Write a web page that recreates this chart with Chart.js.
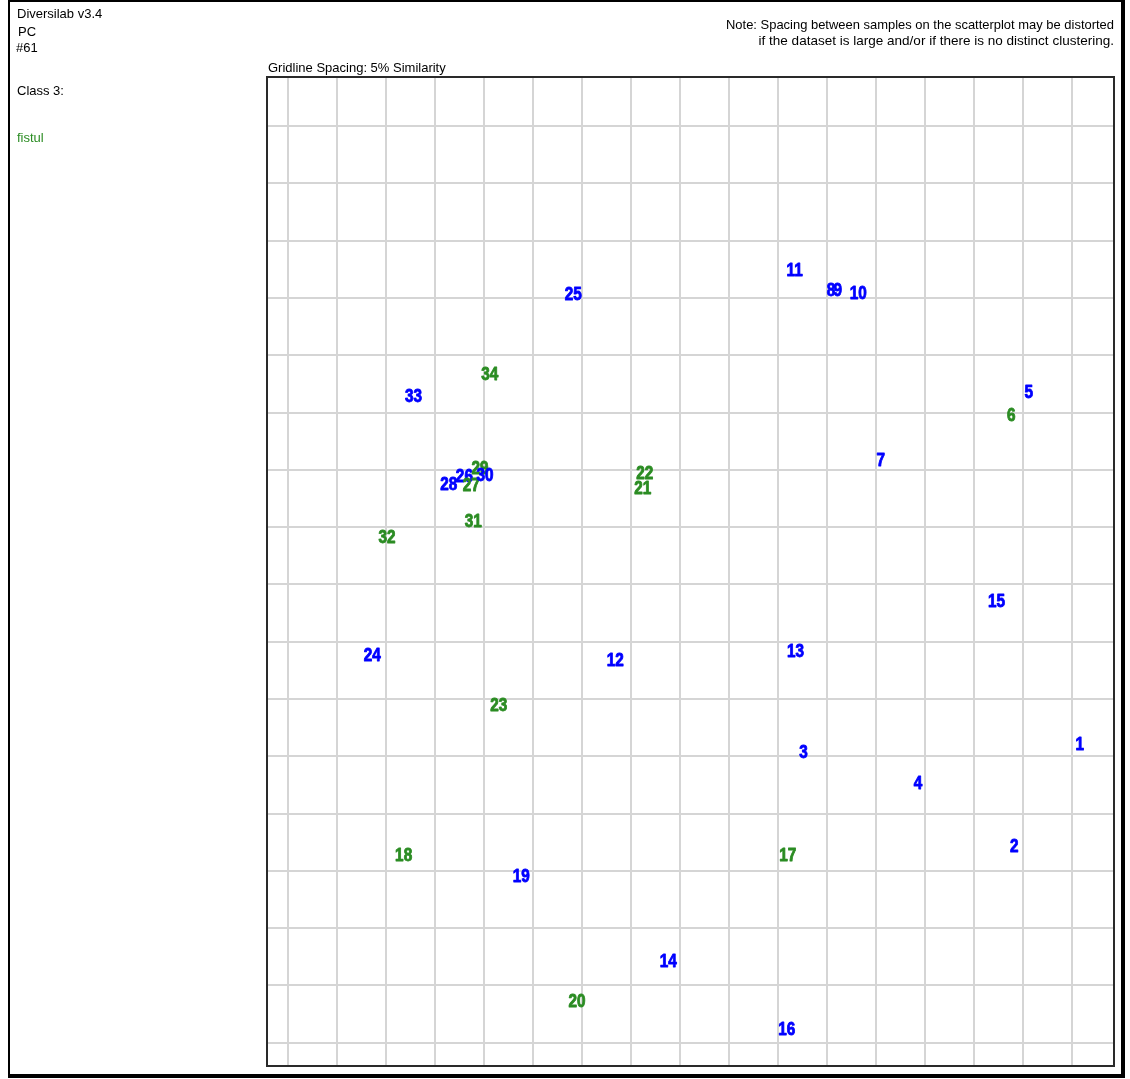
<!DOCTYPE html>
<html>
<head>
<meta charset="utf-8">
<title>Diversilab PC scatterplot</title>
<script src="https://cdn.jsdelivr.net/npm/chart.js@4/dist/chart.umd.min.js"></script>
<style>
  html, body { margin: 0; padding: 0; background: #fff; }
  #wrap { position: relative; width: 1130px; height: 1079px; }
  #frame {
    position: absolute; left: 8px; top: 0; width: 1117px; height: 1078px;
    box-sizing: border-box;
    border-left: 2px solid #000; border-top: 2px solid #000;
    border-right: 4px solid #000; border-bottom: 4px solid #000;
    pointer-events: none;
  }
  canvas { position: absolute; left: 0; top: 0; }
</style>
</head>
<body>
<div id="wrap">
  <canvas id="pcChart" width="1130" height="1079"></canvas>
  <div id="frame"></div>
</div>
<script>
// Samples of the "fistul" class are green, the rest blue
const blueLabels = ['1', '2', '3', '4', '5', '7', '8', '9', '10', '11', '12', '13', '14', '15', '16', '19', '24', '25', '26', '28', '30', '33'];
const blueX = [80.8, 74.1, 52.6, 64.3, 75.6, 60.5, 55.4, 56.1, 58.2, 51.7, 33.4, 51.8, 38.8, 72.3, 50.9, 23.8, 8.6, 29.1, 18.0, 16.4, 20.1, 12.8];
const blueY = [26.1, 17.2, 25.4, 22.7, 56.8, 50.9, 65.7, 65.7, 65.5, 67.5, 33.4, 34.2, 7.2, 38.6, 1.2, 14.6, 33.9, 65.4, 49.5, 48.8, 49.6, 56.5];

const greenLabels = ['6', '17', '18', '20', '21', '22', '23', '27', '29', '31', '32', '34'];
const greenX = [73.8, 51.0, 11.8, 29.5, 36.2, 36.4, 21.5, 18.7, 19.6, 18.9, 10.1, 20.6];
const greenY = [54.8, 16.4, 16.4, 3.7, 48.5, 49.8, 29.5, 48.7, 50.2, 45.6, 44.2, 58.4];

// gridlines every 5% similarity
const gridValues = [0, 5, 10, 15, 20, 25, 30, 35, 40, 45, 50, 55, 60, 65, 70, 75, 80];

const BLUE = '#0000ff';
const GREEN = '#2b8c23';

function toPoints(xs, ys) {
  return xs.map((x, i) => ({ x: x, y: ys[i] }));
}

// draws the sample numbers at each point, in numeric order so overlaps stack like the original
const sampleLabels = {
  id: 'sampleLabels',
  afterDatasetsDraw(chart) {
    const ctx = chart.ctx;
    const items = [];
    chart.data.datasets.forEach((ds, i) => {
      const meta = chart.getDatasetMeta(i);
      meta.data.forEach((pt, j) => {
        items.push({ text: ds.labels[j], x: pt.x, y: pt.y, color: ds.textColor });
      });
    });
    items.sort((a, b) => Number(a.text) - Number(b.text));
    ctx.save();
    ctx.font = 'bold 18px "Liberation Sans", Arial, sans-serif';
    ctx.textAlign = 'center';
    ctx.textBaseline = 'alphabetic';
    ctx.lineWidth = 0.9;
    ctx.lineJoin = 'round';
    items.forEach(it => {
      ctx.save();
      ctx.translate(it.x, it.y);
      ctx.scale(0.85, 1); // narrow bold digits like the original
      ctx.fillStyle = it.color;
      ctx.strokeStyle = it.color;
      ctx.fillText(it.text, 0, 6.5);
      ctx.strokeText(it.text, 0, 6.5);
      ctx.restore();
    });
    ctx.restore();
  }
};

// plot box border + header texts
const decorations = {
  id: 'decorations',
  beforeDraw(chart) {
    const ctx = chart.ctx;
    ctx.save();
    ctx.fillStyle = '#fff';
    ctx.fillRect(0, 0, chart.width, chart.height);
    ctx.restore();
  },
  afterDraw(chart) {
    const ctx = chart.ctx;
    const a = chart.chartArea;
    ctx.save();
    ctx.strokeStyle = '#2a2a2a';
    ctx.lineWidth = 2;
    ctx.strokeRect(a.left - 1, a.top, a.right - a.left + 1, a.bottom - a.top);

    ctx.font = '13px "Liberation Sans", Arial, sans-serif';
    ctx.textBaseline = 'alphabetic';
    ctx.fillStyle = '#000';
    ctx.textAlign = 'left';
    ctx.fillText('Diversilab v3.4', 17, 18, 88);
    ctx.fillText('PC', 18, 36);
    ctx.fillText('#61', 16, 52);
    ctx.fillText('Class 3:', 17, 95);
    ctx.fillText('Gridline Spacing: 5% Similarity', a.left, 72, 180);
    ctx.fillStyle = GREEN;
    ctx.fillText('fistul', 17, 142);

    ctx.fillStyle = '#000';
    ctx.textAlign = 'right';
    ctx.fillText('Note: Spacing between samples on the scatterplot may be distorted', 1114, 29, 388);
    // second line is a bit wider in the original, stretch it slightly
    ctx.save();
    ctx.translate(1114, 45);
    ctx.scale(1.04, 1);
    ctx.fillText('if the dataset is large and/or if there is no distinct clustering.', 0, 0);
    ctx.restore();
    ctx.restore();
  }
};

const axisCommon = {
  type: 'linear',
  min: -2.04,
  max: 84.29,
  afterBuildTicks: scale => { scale.ticks = gridValues.map(v => ({ value: v })); },
  ticks: { display: false },
  grid: { color: '#d5d5d5', lineWidth: 2, drawTicks: false },
  border: { display: false }
};

new Chart(document.getElementById('pcChart'), {
  type: 'scatter',
  data: {
    datasets: [
      { label: 'samples', data: toPoints(blueX, blueY), labels: blueLabels, textColor: BLUE, pointRadius: 0, pointHoverRadius: 0 },
      { label: 'fistul', data: toPoints(greenX, greenY), labels: greenLabels, textColor: GREEN, pointRadius: 0, pointHoverRadius: 0 }
    ]
  },
  options: {
    responsive: false,
    animation: false,
    layout: { padding: { left: 268, top: 77, right: 16, bottom: 13 } },
    plugins: {
      legend: { display: false },
      tooltip: { enabled: false }
    },
    scales: {
      x: axisCommon,
      y: Object.assign({}, axisCommon)
    }
  },
  plugins: [decorations, sampleLabels]
});
</script>
</body>
</html>
